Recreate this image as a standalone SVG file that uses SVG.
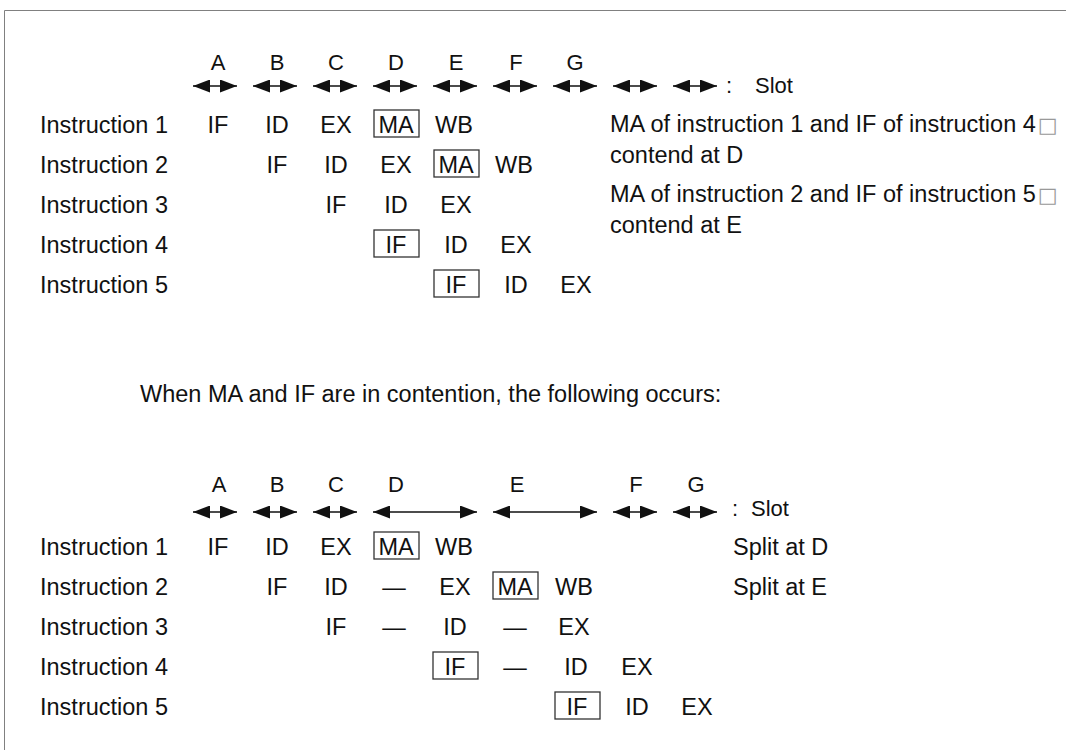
<svg xmlns="http://www.w3.org/2000/svg" width="1066" height="750" viewBox="0 0 1066 750">
<style>
text{font-family:"Liberation Sans",Arial,sans-serif;font-size:23.5px;fill:#111}
.c{text-anchor:middle}
.s{font-size:22px}
.box{fill:none;stroke:#333;stroke-width:1.3}
.arr{stroke:#111;stroke-width:1.5;fill:none;marker-start:url(#ah);marker-end:url(#ah)}
.tofu{font-family:"DejaVu Sans",sans-serif;font-size:21px;fill:#999}
</style>
<defs>
<marker id="ah" viewBox="0 0 17 13" refX="17" refY="6.5" markerWidth="17" markerHeight="13" markerUnits="userSpaceOnUse" orient="auto-start-reverse">
<path d="M0,0 L17,6.5 L0,13 z" fill="#111"/>
</marker>
</defs>
<rect width="1066" height="750" fill="#fff"/>
<g id="frame" stroke="#808080" stroke-width="1">
<line x1="4.5" y1="10.5" x2="1066" y2="10.5"/>
<line x1="4.5" y1="10.5" x2="4.5" y2="750"/>
</g>

<!-- TOP SECTION -->
<g id="top-slots">
<text class="c s" x="218" y="70">A</text>
<text class="c s" x="277" y="70">B</text>
<text class="c s" x="336" y="70">C</text>
<text class="c s" x="396" y="70">D</text>
<text class="c s" x="456" y="70">E</text>
<text class="c s" x="516" y="70">F</text>
<text class="c s" x="575" y="70">G</text>
<text class="s" x="726" y="93">:</text><text class="s" x="755" y="93">Slot</text>
</g>
<g id="top-connectors">
<line class="arr" x1="193" y1="86" x2="237" y2="86"/>
<line class="arr" x1="253" y1="86" x2="297" y2="86"/>
<line class="arr" x1="313" y1="86" x2="357" y2="86"/>
<line class="arr" x1="373" y1="86" x2="417" y2="86"/>
<line class="arr" x1="433" y1="86" x2="477" y2="86"/>
<line class="arr" x1="493" y1="86" x2="537" y2="86"/>
<line class="arr" x1="553" y1="86" x2="597" y2="86"/>
<line class="arr" x1="613" y1="86" x2="657" y2="86"/>
<line class="arr" x1="673" y1="86" x2="717" y2="86"/>
</g>
<g id="top-instr1">
<text x="40" y="133">Instruction 1</text>
<text class="c" x="218" y="133">IF</text>
<text class="c" x="277" y="133">ID</text>
<text class="c" x="336" y="133">EX</text>
<rect class="box" x="374" y="110" width="45" height="27"/>
<text class="c" x="396" y="133">MA</text>
<text class="c" x="454" y="133">WB</text>
</g>
<g id="top-instr2">
<text x="40" y="173">Instruction 2</text>
<text class="c" x="277" y="173">IF</text>
<text class="c" x="336" y="173">ID</text>
<text class="c" x="396" y="173">EX</text>
<rect class="box" x="434" y="150" width="45" height="27"/>
<text class="c" x="456" y="173">MA</text>
<text class="c" x="514" y="173">WB</text>
</g>
<g id="top-instr3">
<text x="40" y="213">Instruction 3</text>
<text class="c" x="336" y="213">IF</text>
<text class="c" x="396" y="213">ID</text>
<text class="c" x="456" y="213">EX</text>
</g>
<g id="top-instr4">
<text x="40" y="253">Instruction 4</text>
<rect class="box" x="374" y="230" width="45" height="27"/>
<text class="c" x="396" y="253">IF</text>
<text class="c" x="456" y="253">ID</text>
<text class="c" x="516" y="253">EX</text>
</g>
<g id="top-instr5">
<text x="40" y="293">Instruction 5</text>
<rect class="box" x="434" y="270" width="45" height="27"/>
<text class="c" x="456" y="293">IF</text>
<text class="c" x="516" y="293">ID</text>
<text class="c" x="576" y="293">EX</text>
</g>
<g id="top-notes">
<text x="610" y="132">MA of instruction 1 and IF of instruction 4<tspan class="tofu" dx="2">□</tspan></text>
<text x="610" y="163">contend at D</text>
<text x="610" y="202">MA of instruction 2 and IF of instruction 5<tspan class="tofu" dx="2">□</tspan></text>
<text x="610" y="233">contend at E</text>
</g>

<g id="caption">
<text x="140" y="402">When MA and IF are in contention, the following occurs:</text>
</g>

<!-- BOTTOM SECTION -->
<g id="bottom-slots">
<text class="c s" x="219" y="492">A</text>
<text class="c s" x="277" y="492">B</text>
<text class="c s" x="336" y="492">C</text>
<text class="c s" x="396" y="492">D</text>
<text class="c s" x="517" y="492">E</text>
<text class="c s" x="636" y="492">F</text>
<text class="c s" x="696" y="492">G</text>
<text class="s" x="732" y="516">:</text><text class="s" x="751" y="516">Slot</text>
</g>
<g id="bottom-connectors">
<line class="arr" x1="193" y1="512" x2="237" y2="512"/>
<line class="arr" x1="253" y1="512" x2="297" y2="512"/>
<line class="arr" x1="313" y1="512" x2="357" y2="512"/>
<line class="arr" x1="373" y1="512" x2="477" y2="512"/>
<line class="arr" x1="493" y1="512" x2="597" y2="512"/>
<line class="arr" x1="613" y1="512" x2="657" y2="512"/>
<line class="arr" x1="673" y1="512" x2="717" y2="512"/>
</g>
<g id="bottom-instr1">
<text x="40" y="555">Instruction 1</text>
<text class="c" x="218" y="555">IF</text>
<text class="c" x="277" y="555">ID</text>
<text class="c" x="336" y="555">EX</text>
<rect class="box" x="374" y="532" width="45" height="27"/>
<text class="c" x="396" y="555">MA</text>
<text class="c" x="454" y="555">WB</text>
<text x="733" y="555">Split at D</text>
</g>
<g id="bottom-instr2">
<text x="40" y="595">Instruction 2</text>
<text class="c" x="277" y="595">IF</text>
<text class="c" x="336" y="595">ID</text>
<text class="c" x="394" y="595">—</text>
<text class="c" x="455" y="595">EX</text>
<rect class="box" x="493" y="572" width="45" height="27"/>
<text class="c" x="515" y="595">MA</text>
<text class="c" x="574" y="595">WB</text>
<text x="733" y="595">Split at E</text>
</g>
<g id="bottom-instr3">
<text x="40" y="635">Instruction 3</text>
<text class="c" x="336" y="635">IF</text>
<text class="c" x="394" y="635">—</text>
<text class="c" x="455" y="635">ID</text>
<text class="c" x="515" y="635">—</text>
<text class="c" x="574" y="635">EX</text>
</g>
<g id="bottom-instr4">
<text x="40" y="675">Instruction 4</text>
<rect class="box" x="433" y="652" width="45" height="27"/>
<text class="c" x="455" y="675">IF</text>
<text class="c" x="515" y="675">—</text>
<text class="c" x="576" y="675">ID</text>
<text class="c" x="637" y="675">EX</text>
</g>
<g id="bottom-instr5">
<text x="40" y="715">Instruction 5</text>
<rect class="box" x="555" y="692" width="45" height="27"/>
<text class="c" x="577" y="715">IF</text>
<text class="c" x="637" y="715">ID</text>
<text class="c" x="697" y="715">EX</text>
</g>
</svg>
